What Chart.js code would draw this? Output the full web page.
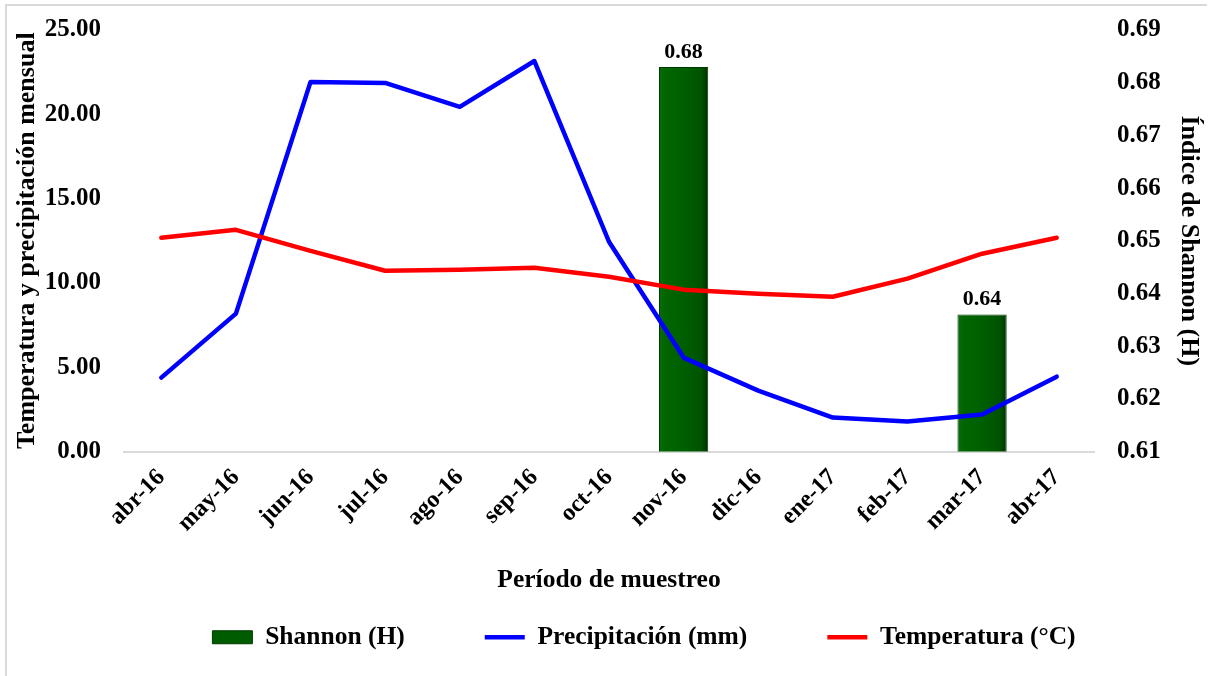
<!DOCTYPE html>
<html>
<head>
<meta charset="utf-8">
<title>Shannon, precipitación y temperatura</title>
<script src="https://cdn.jsdelivr.net/npm/chart.js@4/dist/chart.umd.min.js"></script>
<style>
  html, body { margin: 0; padding: 0; background: #ffffff; }
  #wrap { position: relative; width: 1214px; height: 676px; overflow: hidden; }
  #wrap canvas { position: absolute; left: 0; top: 0; }
  #frame {
    position: absolute; left: 5px; top: 4px; width: 1200px; height: 700px;
    border-left: 2px solid #d9d9d9; border-top: 2px solid #d9d9d9;
    pointer-events: none;
  }
</style>
</head>
<body>
<div id="wrap">
  <canvas id="chart" width="1214" height="676"></canvas>
  <div id="frame"></div>
</div>
<script>
// Sampling months
const meses = ['abr-16', 'may-16', 'jun-16', 'jul-16', 'ago-16', 'sep-16', 'oct-16',
               'nov-16', 'dic-16', 'ene-17', 'feb-17', 'mar-17', 'abr-17'];

// Shannon diversity index (H), only measured in two months
const shannon = [null, null, null, null, null, null, null, 0.683, null, null, null, 0.636, null];

// Monthly precipitation (mm)
const precipitacion = [4.38, 8.18, 21.92, 21.86, 20.44, 23.16, 12.44, 5.57, 3.61, 2.01, 1.78, 2.19, 4.44];

// Monthly mean temperature (°C)
const temperatura = [12.68, 13.15, 11.90, 10.72, 10.78, 10.90, 10.37, 9.60, 9.36, 9.18, 10.25, 11.73, 12.68];

// Axis tick values
const ticksIzq = [0, 5, 10, 15, 20, 25];
const ticksDer = [0.61, 0.62, 0.63, 0.64, 0.65, 0.66, 0.67, 0.68, 0.69];

const SERIF = "'Liberation Serif', 'Times New Roman', 'DejaVu Serif', serif";
const bold = (size) => ({ family: SERIF, size: size, weight: 'bold' });

// Bevelled dark green fill for the Shannon bars
function barFill(c) {
  const chart = c.chart;
  const xs = chart.scales && chart.scales.x;
  if (c.type !== 'data' || !chart.chartArea || !xs) return '#006000';
  const cx = xs.getPixelForValue(c.dataIndex);
  const half = (xs.width / meses.length) * 0.66 / 2;
  const g = chart.ctx.createLinearGradient(cx - half, 0, cx + half, 0);
  g.addColorStop(0, '#0d6a0d');
  g.addColorStop(0.12, '#006600');
  g.addColorStop(0.5, '#005f00');
  g.addColorStop(0.86, '#005300');
  g.addColorStop(1, '#003000');
  return g;
}

// Value labels above the bars
const valueLabels = {
  id: 'valueLabels',
  afterDatasetsDraw(chart) {
    const ctx = chart.ctx;
    chart.data.datasets.forEach((ds, i) => {
      if (ds.type !== 'bar') return;
      const meta = chart.getDatasetMeta(i);
      meta.data.forEach((el, j) => {
        const v = ds.data[j];
        if (v === null || v === undefined) return;
        ctx.save();
        ctx.font = 'bold 22px ' + SERIF;
        ctx.fillStyle = '#000000';
        ctx.textAlign = 'center';
        ctx.textBaseline = 'bottom';
        ctx.fillText(v.toFixed(2), el.x, el.y - 4);
        ctx.restore();
      });
    });
  }
};

// Horizontal offset for the legend row
const legendShift = {
  id: 'legendShift',
  afterLayout(chart, args, opts) {
    const lg = chart.legend;
    if (!lg) return;
    const dx = opts.dx || 0;
    lg.left += dx;
    lg.right += dx;
  }
};

// Keep the value axes from reserving extra room above/below the plot
function trimVerticalPadding(s) {
  s.paddingTop = 8;
  s.paddingBottom = 8;
}

new Chart(document.getElementById('chart'), {
  data: {
    labels: meses,
    datasets: [
      {
        type: 'bar',
        label: 'Shannon (H)',
        data: shannon,
        yAxisID: 'y1',
        backgroundColor: barFill,
        borderColor: '#003a00',
        borderWidth: 1,
        barPercentage: 0.66,
        categoryPercentage: 1.0,
        pointStyle: 'rect',
        order: 3
      },
      {
        type: 'line',
        label: 'Precipitación (mm)',
        data: precipitacion,
        yAxisID: 'y',
        borderColor: '#0000ff',
        backgroundColor: '#0000ff',
        borderWidth: 4.5,
        pointRadius: 0,
        pointHoverRadius: 0,
        pointStyle: 'line',
        tension: 0,
        borderJoinStyle: 'round',
        borderCapStyle: 'round',
        fill: false,
        order: 2
      },
      {
        type: 'line',
        label: 'Temperatura (°C)',
        data: temperatura,
        yAxisID: 'y',
        borderColor: '#ff0000',
        backgroundColor: '#ff0000',
        borderWidth: 4.5,
        pointRadius: 0,
        pointHoverRadius: 0,
        pointStyle: 'line',
        tension: 0,
        borderJoinStyle: 'round',
        borderCapStyle: 'round',
        fill: false,
        order: 1
      }
    ]
  },
  options: {
    responsive: false,
    animation: false,
    events: [],
    layout: { padding: { top: 30, left: 0, right: 0, bottom: 16 } },
    scales: {
      x: {
        type: 'category',
        offset: true,
        grid: { display: false, drawTicks: false },
        border: { display: true, color: '#d9d9d9', width: 2 },
        ticks: {
          color: '#000000',
          font: bold(24),
          minRotation: 45,
          maxRotation: 45,
          autoSkip: false,
          padding: 12
        },
        title: {
          display: true,
          text: 'Período de muestreo',
          color: '#000000',
          font: bold(25.5),
          padding: { top: 0, bottom: -51 }
        },
        afterFit(s) { s.height = 93; }
      },
      y: {
        type: 'linear',
        position: 'left',
        min: ticksIzq[0],
        max: ticksIzq[ticksIzq.length - 1],
        afterBuildTicks(s) { s.ticks = ticksIzq.map(v => ({ value: v })); },
        grid: { display: false, drawTicks: false },
        border: { display: false },
        ticks: {
          color: '#000000',
          font: bold(25),
          padding: 23,
          callback: (v) => Number(v).toFixed(2)
        },
        title: {
          display: true,
          text: 'Temperatura y precipitación mensual',
          color: '#000000',
          font: bold(26),
          padding: { top: 12, bottom: 0 }
        },
        afterFit(s) { s.width = 124; trimVerticalPadding(s); }
      },
      y1: {
        type: 'linear',
        position: 'right',
        min: ticksDer[0],
        max: ticksDer[ticksDer.length - 1],
        afterBuildTicks(s) { s.ticks = ticksDer.map(v => ({ value: v })); },
        grid: { display: false, drawTicks: false },
        border: { display: false },
        ticks: {
          color: '#000000',
          font: bold(25),
          padding: 23,
          callback: (v) => Number(v).toFixed(2)
        },
        title: {
          display: true,
          text: 'Índice de Shannon (H)',
          color: '#000000',
          font: bold(26),
          padding: { top: 10, bottom: 0 }
        },
        afterFit(s) { s.width = 120; trimVerticalPadding(s); }
      }
    },
    plugins: {
      legendShift: { dx: 37 },
      tooltip: { enabled: false },
      legend: {
        display: true,
        position: 'bottom',
        labels: {
          color: '#000000',
          font: bold(25.5),
          usePointStyle: true,
          pointStyleWidth: 40,
          boxHeight: 13,
          padding: 80,
          sort: (a, b) => a.datasetIndex - b.datasetIndex,
          generateLabels(chart) {
            const items = Chart.defaults.plugins.legend.labels.generateLabels(chart);
            items.forEach(it => {
              if (it.datasetIndex === 0) {
                it.fillStyle = '#005c00';
                it.strokeStyle = '#003a00';
                it.lineWidth = 1;
              }
            });
            return items;
          }
        }
      }
    }
  },
  plugins: [valueLabels, legendShift]
});
</script>
</body>
</html>
